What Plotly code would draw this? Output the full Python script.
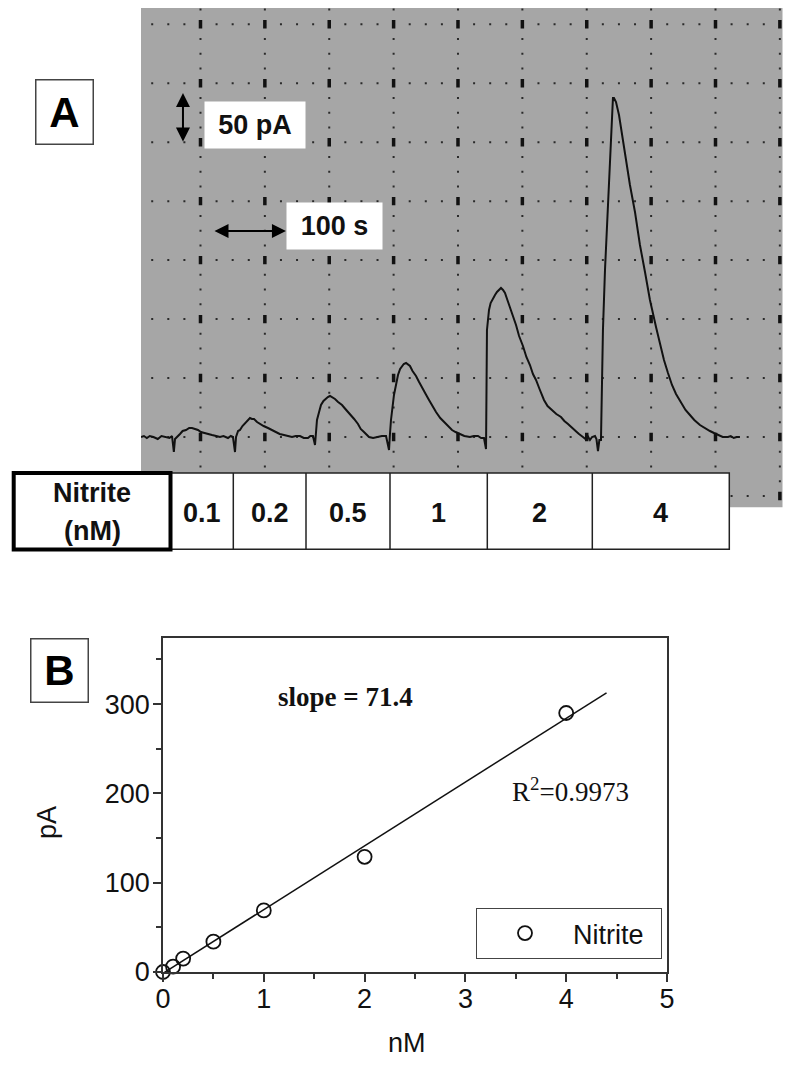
"""Nitrite amperometric trace (A) and calibration plot (B)."""

import numpy as np
import plotly.graph_objects as go

W, H = 800, 1067
OFF = 8  # page body margin that shifts the figure in the browser
_FONT = "Liberation Sans, Arial, sans-serif"
_SERIF = "Liberation Serif, Times New Roman, serif"
_INK = "#111111"
_AX = "#333333"

# ---- Panel A: amperometric response (time in s, current in pA) ----
trace_t = [
    0, 4, 8, 12, 17, 23, 28, 34, 39, 42.5, 45, 46.6, 50, 53.4, 57, 61.7, 66, 69.9,
    74, 78.1, 82, 86.3, 92, 97.3, 103, 108.2, 113, 119.2, 123, 126, 128.8, 130.2,
    133, 135.6, 139, 142.5, 146, 149.3, 152, 154.8, 159, 163, 168, 174, 180, 185,
    190, 195.9, 201, 206.9, 212, 217.8, 223, 228.8, 232, 235.6, 238.4, 240, 241.1,
    244, 246.6, 250, 253.5, 256, 258.9, 262, 265.8, 270, 275.4, 280, 286.3, 292,
    297.3, 301, 305.5, 309, 312.4, 318, 324.7, 330, 335.7, 339.8, 341, 342.5,
    346.6, 349, 352.1, 355, 357.6, 360, 363.1, 366, 368.5, 372, 376.8, 381, 385,
    390, 394.6, 399, 404.2, 410, 415.1, 420, 426.1, 431, 437, 443, 450.7, 456,
    461.7, 466, 469.9, 472.7, 474, 476.8, 479, 482.2, 485, 487.7, 490, 493.2, 496,
    498.7, 502, 505.5, 509, 513.8, 518, 523.3, 528, 532.9, 537, 541.2, 546, 552.1,
    557, 563.1, 569, 575.4, 580, 585, 589, 593.2, 597, 600.1, 603, 605.5, 609,
    612, 615.1, 618, 622, 624, 626.1, 628, 630.2, 631.5, 632.9, 635.7, 638, 639.8,
    642.5, 645.3, 646.6, 648, 650.8, 654.9, 659, 664.5, 669.9, 676.8, 683.6,
    690.5, 697.3, 705.6, 711, 716.5, 722, 727.5, 733, 739.8, 746, 752.1, 758,
    765.8, 772, 779.5, 785, 790.5, 797, 804.2, 808, 812, 816, 820.6,
]
trace_pA = [
    0, 1, -1, 1, 0, -2, 1, 0, -1, 1, -15, -2, 1, 3, 6, 7, 9, 9,
    8, 7, 5, 4, 3, 2, 1, 0, 1, -1, 1, 0, -15, 0,
    6, 7, 11, 14, 17, 19, 18, 18, 15, 13, 11, 9, 7, 5,
    3, 2, 1, 0, 1, 1, -1, -1, 1, 1, -8, 5, 17,
    25, 32, 36, 39, 40, 41, 40, 38, 35, 32, 28, 23, 18,
    13, 8, 5, 2, 0, -1, 0, 1, 1, -13, 2, 17,
    42, 52, 62, 68, 71, 73, 74, 72, 71, 66, 61, 55, 49,
    43, 37, 31, 25, 19, 15, 11, 7, 5, 3, 1, 0, 1,
    1, -1, -1, -12, 107, 127, 134, 139, 142, 145, 147, 149, 147,
    144, 137, 130, 121, 112, 101, 91, 80, 72, 63, 57, 48, 37,
    31, 27, 23, 20, 16, 13, 10, 7, 5, 3, 1, 0, -2,
    1, -3, 0, 1, -2, -14, -3, -3, 60, 107, 167, 205, 237,
    287, 325, 339, 339, 335, 322, 302, 277, 252, 225, 192,
    165, 137, 110, 93, 77, 64, 52, 43, 34, 27, 22, 17,
    12, 9, 6, 4, 2, 0, 0, 1, -1, 0, 0,
]
conc_labels = ["0.1", "0.2", "0.5", "1", "2", "4"]
scale_pA = 50
scale_s = 100

# ---- Panel B: calibration ----
nitrite_nM = [0, 0.1, 0.2, 0.5, 1, 2, 4]
current_pA = [0, 6, 15, 34, 69, 129, 290]
fit_slope = 71.4
fit_intercept = -1.5
fit_x = [0, 4.4]
r_squared = "0.9973"


def px(x):
    return (x - OFF) / W


def py(y):
    return 1 - (y - OFF) / H


# oscilloscope-style dotted grid for panel A
T0, DT = 81.5, 88.2      # first major vertical, spacing (s)
DI = 58.96               # major horizontal spacing (pA)
jx = np.arange(-3, 37)
my_ = np.arange(-4, 30)
xs_min = T0 + DT / 4 * jx
ys_min = DI / 4 * my_
xs_maj = xs_min[jx % 4 == 0]
ys_maj = ys_min[my_ % 4 == 0]
dot_x, dot_y = [], []
for yv in ys_maj:
    for xv in xs_min[jx % 4 != 0]:
        dot_x.append(xv); dot_y.append(yv)
for xv in xs_maj:
    for yv in ys_min[my_ % 4 != 0]:
        dot_x.append(xv); dot_y.append(yv)
cross_x = [xv for yv in ys_maj for xv in xs_maj]
cross_y = [yv for yv in ys_maj for xv in xs_maj]

fig = go.Figure()
fig.add_trace(go.Scatter(
    x=dot_x, y=dot_y, mode="markers", xaxis="x", yaxis="y",
    marker=dict(symbol="square", size=2, color="#2a2a2a", line_width=0),
    hoverinfo="skip", showlegend=False,
))
fig.add_trace(go.Scatter(
    x=cross_x, y=cross_y, mode="markers", xaxis="x", yaxis="y",
    marker=dict(symbol="line-ns", size=6, line=dict(width=3.5, color=_INK)),
    hoverinfo="skip", showlegend=False,
))
fig.add_trace(go.Scatter(
    x=trace_t, y=trace_pA, mode="lines", xaxis="x", yaxis="y",
    line=dict(color=_INK, width=2), showlegend=False,
))

fig.add_trace(go.Scatter(
    x=fit_x, y=[fit_slope * v + fit_intercept for v in fit_x],
    mode="lines", xaxis="x2", yaxis="y2",
    line=dict(color=_INK, width=1.5), showlegend=False,
))
fig.add_trace(go.Scatter(
    x=nitrite_nM, y=current_pA, mode="markers", name="Nitrite",
    xaxis="x2", yaxis="y2", cliponaxis=False,
    marker=dict(symbol="circle-open", size=14, color=_INK, line=dict(width=1.8)),
))

# ---- shapes: gray screen, table ----
shapes = [dict(
    type="rect", xref="x domain", yref="y domain", x0=0, x1=1, y0=0, y1=1,
    fillcolor="#a6a6a6", line_width=0, layer="below",
)]
tb_top, tb_bot = 473, 549.3
edges = [170.5, 233.3, 306, 390, 487.3, 592.3, 729.3]
shapes.append(dict(
    type="rect", xref="paper", yref="paper",
    x0=px(edges[0]), x1=px(edges[-1]), y0=py(tb_bot), y1=py(tb_top),
    fillcolor="white", line=dict(color="#222", width=1.5), layer="above",
))
for e in edges[1:-1]:
    shapes.append(dict(
        type="line", xref="paper", yref="paper",
        x0=px(e), x1=px(e), y0=py(tb_bot), y1=py(tb_top),
        line=dict(color="#222", width=1.5), layer="above",
    ))
shapes.append(dict(
    type="rect", xref="paper", yref="paper",
    x0=px(13.7), x1=px(170.5), y0=py(549.5), y1=py(473),
    fillcolor="white", line=dict(color="#000", width=4), layer="above",
))

ann = []
big = dict(family=_FONT, size=27, color=_INK)
ann.append(dict(text="<b>Nitrite</b>", x=px(92), y=py(493), font=big))
ann.append(dict(text="<b>(nM)</b>", x=px(92), y=py(531), font=big))
for i, lab in enumerate(conc_labels):
    ann.append(dict(text=f"<b>{lab}</b>", x=px((edges[i] + edges[i + 1]) / 2),
                    y=py(513), font=big))
# panel letters
for letter, cx, cy, w, h in [("A", 64, 112.5, 56, 63), ("B", 59, 670.5, 56, 62)]:
    ann.append(dict(text=f"<b>{letter}</b>", x=px(cx), y=py(cy),
                    width=w, height=h, bgcolor="white", bordercolor="#444",
                    borderwidth=1.5, borderpad=0,
                    font=dict(family=_FONT, size=42, color="#000")))
# scale-bar labels
ann.append(dict(text=f"<b>{scale_pA} pA</b>", x=px(254.5), y=py(125), width=100, height=46,
                bgcolor="white", borderpad=0, font=big))
ann.append(dict(text=f"<b>{scale_s} s</b>", x=px(334.5), y=py(226), width=95, height=46,
                bgcolor="white", borderpad=0, font=big))
# panel B texts and axis titles
serif = dict(family=_SERIF, size=27, color=_INK)
ann.append(dict(text=f"<b>slope = {fit_slope}</b>", x=px(345), y=py(697), font=serif))
ann.append(dict(text="R<sup>2</sup>=" + r_squared, x=px(570), y=py(790), font=serif))
ann.append(dict(text="pA", x=px(47), y=py(823), textangle=-90, font=big))
ann.append(dict(text="nM", x=px(407), y=py(1043), font=big))
for a in ann:
    a["xref"] = "paper"
    a["yref"] = "paper"
    a["showarrow"] = False
    a["xanchor"] = "center"
    a["yanchor"] = "middle"

# scale-bar arrows in panel A data units
t_bar, i_bar = 57.5, 294
ann.append(dict(
    x=t_bar, y=i_bar + scale_pA, ax=t_bar, ay=i_bar, xref="x", yref="y",
    axref="x", ayref="y", text="", showarrow=True, arrowside="end+start",
    arrowhead=2, startarrowhead=2, arrowsize=1.4, startarrowsize=1.4,
    arrowwidth=2, arrowcolor="#000",
))
t0_bar, i0_bar = 98.6, 206
ann.append(dict(
    x=t0_bar + scale_s, y=i0_bar, ax=t0_bar, ay=i0_bar, xref="x", yref="y",
    axref="x", ayref="y", text="", showarrow=True, arrowside="end+start",
    arrowhead=2, startarrowhead=2, arrowsize=1.4, startarrowsize=1.4,
    arrowwidth=2, arrowcolor="#000",
))

axB = dict(
    ticks="outside", ticklen=8, tickwidth=1.5, tickcolor=_AX,
    showline=True, linecolor=_AX, linewidth=1.5, mirror=True,
    showgrid=False, zeroline=False, automargin=False,
    tickfont=dict(family=_FONT, size=27, color=_INK),
)

fig.update_layout(
    width=W, height=H, autosize=False,
    margin=dict(l=0, r=0, t=0, b=0, pad=0, autoexpand=False),
    paper_bgcolor="white", plot_bgcolor="rgba(0,0,0,0)",
    font=dict(family=_FONT, color=_INK),
    xaxis=dict(domain=[px(141), px(782.5)], range=[0, 878.9], visible=False,
               automargin=False),
    yaxis=dict(domain=[py(507.3), py(8)], range=[-70.3, 429], visible=False,
               automargin=False),
    xaxis2=dict(
        domain=[px(163), px(667)], range=[0, 5], anchor="y2",
        tickmode="linear", tick0=0, dtick=1, ticklabelstandoff=-6,
        minor=dict(dtick=0.5, ticks="outside", ticklen=5, tickwidth=1.5,
                   tickcolor=_AX, showgrid=False),
        **axB,
    ),
    yaxis2=dict(
        domain=[py(972), py(638)], range=[0, 374], anchor="x2",
        tickmode="linear", tick0=0, dtick=100, ticklabelstandoff=-2,
        minor=dict(dtick=50, ticks="outside", ticklen=5, tickwidth=1.5,
                   tickcolor=_AX, showgrid=False),
        **axB,
    ),
    legend=dict(
        x=px(476), y=py(908), xanchor="left", yanchor="top",
        orientation="h", entrywidth=83, itemwidth=86,
        bgcolor="white", bordercolor="#444", borderwidth=1,
        font=dict(family=_FONT, size=27, color=_INK),
    ),
    shapes=shapes,
    annotations=ann,
)

fig.write_html("out.html")
